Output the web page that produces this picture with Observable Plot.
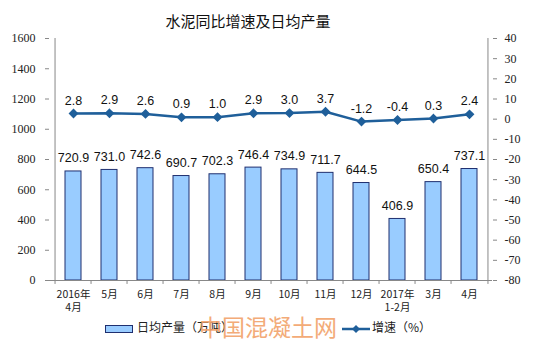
<!DOCTYPE html>
<html><head><meta charset="utf-8">
<script src="https://cdn.jsdelivr.net/npm/d3@7"></script>
<script src="https://cdn.jsdelivr.net/npm/@observablehq/plot@0.6"></script>
<style>
body{margin:0;background:#fff;width:538px;height:364px;overflow:hidden;position:relative;font-family:"Noto Sans CJK SC",sans-serif}
#title{position:absolute;left:0;width:496px;top:10px;text-align:center;font-size:15px;color:#111}
#chart{position:absolute;left:0;top:0}
.leg{position:absolute;top:318px;font-size:12px;color:#222;white-space:nowrap}
#wm{position:absolute;left:199px;top:309px;font-size:23px;color:#f2a36a;opacity:0.9;white-space:nowrap}
</style></head>
<body>
<div id="chart"></div>
<div id="title">水泥同比增速及日均产量</div>
<div class="leg" style="left:105px"><span style="display:inline-block;width:26px;height:6px;background:#99ccff;border:1px solid #1f2f6f;vertical-align:middle;margin-right:4px"></span>日均产量（万吨）</div>
<div class="leg" style="left:342px"><svg width="28" height="10" style="vertical-align:middle;margin-right:2px"><line x1="0" y1="5" x2="28" y2="5" stroke="#1f5f9a" stroke-width="2.5"/><path d="M14 1 L18 5 L14 9 L10 5 Z" fill="#1f5f9a"/></svg>增速（%）</div>
<div id="wm">中国混凝土网</div>
<script>
const months = ["2016年\n4月","5月","6月","7月","8月","9月","10月","11月","12月","2017年\n1-2月","3月","4月"];
const output = [720.9,731.0,742.6,690.7,702.3,746.4,734.9,711.7,644.5,406.9,650.4,737.1];
const growth = [2.8,2.9,2.6,0.9,1.0,2.9,3.0,3.7,-1.2,-0.4,0.3,2.4];
const leftTicks = [0,200,400,600,800,1000,1200,1400,1600];
const rightTicks = [40,30,20,10,0,-10,-20,-30,-40,-50,-60,-70,-80];

const toLeft = v => (v + 80) / 120 * 1600;
const data = months.map((m,i)=>({m, out: output[i], g: growth[i], gy: toLeft(growth[i])}));
const fmt = v => v.toFixed(1);
const numFont = "Liberation Sans, Arial, sans-serif";
const serif = "Liberation Serif, DejaVu Serif";
const W = 538, ML = 49, MR = 46;
const half = (W - ML - MR) / months.length / 2;

const chart = Plot.plot({
  width: W, height: 315,
  marginTop: 38, marginBottom: 35, marginLeft: ML, marginRight: MR,
  style: {fontFamily: numFont, background: "transparent"},
  x: {type: "band", domain: months, paddingInner: 0.56, paddingOuter: 0.28, label: null},
  y: {domain: [0,1600], label: null},
  marks: [
    Plot.barY(data, {x: "m", y: "out", fill: "#99ccff", stroke: "#1f2f6f", strokeWidth: 1}),
    Plot.text(data, {x: "m", y: "out", text: d => fmt(d.out), dy: -13, fontSize: 12.5, fill: "#111"}),
    Plot.line(data, {x: "m", y: "gy", stroke: "#1f5f9a", strokeWidth: 2.5}),
    Plot.dot(data, {x: "m", y: "gy", symbol: "diamond2", r: 3.5, fill: "#1f5f9a", stroke: "#1f5f9a"}),
    Plot.text(data, {x: "m", y: "gy", text: d => fmt(d.g), dy: -13, fontSize: 12.5, fill: "#111"}),
    Plot.axisY(leftTicks, {anchor: "left", tickSize: 4, tickPadding: 10, tickFormat: d => String(d), fontFamily: serif, fontSize: 12, stroke: "#888", fill: "#222", label: null}),
    Plot.axisY(rightTicks.map(toLeft), {anchor: "right", tickSize: 4, tickPadding: 8, tickFormat: d => String(Math.round(d/1600*120 - 80)), fontFamily: serif, fontSize: 12, stroke: "#888", fill: "#222", label: null}),
    Plot.axisX({tickSize: 0, tickPadding: 9, fontFamily: "Noto Sans CJK SC, sans-serif", fontSize: 10.5, lineHeight: 1.2, fill: "#222", label: null}),
    Plot.ruleY([0], {stroke: "#888"}),
    Plot.ruleX([months[0]], {x: d => d, dx: -half, y1: 0, y2: 1600, stroke: "#888"}),
    Plot.ruleX([months[months.length-1]], {x: d => d, dx: half, y1: 0, y2: 1600, stroke: "#888"}),
    Plot.ruleX(months, {x: d => d, dx: -half, y1: 0, y2: -26, stroke: "#888"}),
    Plot.ruleX([months[months.length-1]], {x: d => d, dx: half, y1: 0, y2: -26, stroke: "#888"})
  ]
});
chart.querySelectorAll("text").forEach(t => {
  if (/^[-−]?\d+$/.test(t.textContent.trim())) {
    t.setAttribute("font-family", serif);
    t.style.setProperty("font-family", serif, "important");
  }
});
document.getElementById("chart").append(chart);
</script>
</body></html>
